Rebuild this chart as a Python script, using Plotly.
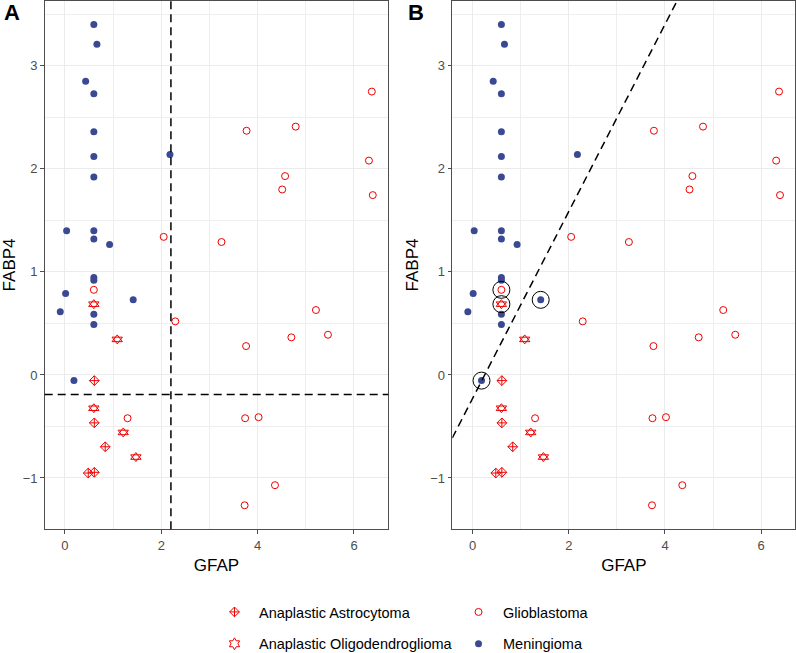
import plotly.graph_objects as go

# ---------------- data ----------------
men_x = [0.60, 0.664, 0.43, 0.60, 0.60, 0.60, 0.60, 2.18, 0.035, 0.60,
         0.60, 0.927, 0.60, 0.60, 0.014, 1.417, -0.097, 0.60, 0.60, 0.187]
men_y = [3.40, 3.21, 2.85, 2.73, 2.36, 2.12, 1.92, 2.14, 1.40, 1.40,
         1.32, 1.265, 0.946, 0.92, 0.79, 0.729, 0.613, 0.59, 0.49, -0.055]

gbm_x = [6.37, 3.77, 4.79, 6.31, 4.57, 4.51, 6.39, 2.05, 3.25, 0.60,
         5.21, 2.29, 5.46, 4.70, 3.76, 1.30, 3.74, 4.02, 4.36, 3.73]
gbm_y = [2.75, 2.37, 2.41, 2.08, 1.93, 1.80, 1.745, 1.34, 1.29, 0.826,
         0.63, 0.52, 0.39, 0.365, 0.28, -0.42, -0.42, -0.41, -1.07, -1.265]

aa_x = [0.61, 0.61, 0.836, 0.61, 0.484]
aa_y = [-0.055, -0.465, -0.697, -0.945, -0.952]

ao_x = [0.60, 1.085, 0.60, 1.21, 1.473]
ao_y = [0.687, 0.345, -0.323, -0.558, -0.797]

# misclassified points highlighted in panel B: (group, index)
highlight = [("gbm", 9), ("ao", 0), ("men", 15), ("men", 19)]

gfap_cut = 2.2
fabp4_cut = -0.19
boundary_intercept = -0.23
boundary_slope = 0.908

x_ticks = [0, 2, 4, 6]
x_minor = [1, 3, 5]
y_ticks = [-1, 0, 1, 2, 3]
y_minor = [-0.5, 0.5, 1.5, 2.5, 3.5]

# ---------------- style ----------------
RED = "#EE0000"
BLUE = "#3B4992"
XR = [-0.42, 6.71]
YR = [-1.498, 3.633]
W, H = 796, 653

groups = {"men": (men_x, men_y), "gbm": (gbm_x, gbm_y),
          "aa": (aa_x, aa_y), "ao": (ao_x, ao_y)}
hl_x = [groups[g][0][i] for g, i in highlight]
hl_y = [groups[g][1][i] for g, i in highlight]

fig = go.Figure()

for k, (xa, ya) in enumerate([("x", "y"), ("x2", "y2")]):
    first = k == 0
    fig.add_trace(go.Scatter(
        x=aa_x, y=aa_y, mode="markers", xaxis=xa, yaxis=ya,
        name="Anaplastic Astrocytoma", legendgroup="aa", legend="legend",
        showlegend=first,
        marker=dict(symbol="diamond-cross-open", size=7.5, color=RED,
                    line=dict(width=1, color=RED))))
    for sym in ["triangle-up-open", "triangle-down-open"]:
        fig.add_trace(go.Scatter(
            x=ao_x, y=ao_y, mode="markers", xaxis=xa, yaxis=ya,
            name="Anaplastic Oligodendroglioma", legendgroup="ao",
            legend="legend", showlegend=False,
            marker=dict(symbol=sym, size=9, color=RED,
                        line=dict(width=1, color=RED))))
    if first:
        fig.add_trace(go.Scatter(
            x=[None], y=[None], mode="markers", xaxis=xa, yaxis=ya,
            name="Anaplastic Oligodendroglioma", legendgroup="ao",
            legend="legend", showlegend=True,
            marker=dict(symbol="hexagram-open", size=9, color=RED,
                        line=dict(width=1, color=RED))))
    fig.add_trace(go.Scatter(
        x=gbm_x, y=gbm_y, mode="markers", xaxis=xa, yaxis=ya,
        name="Glioblastoma", legendgroup="gbm", legend="legend2",
        showlegend=first,
        marker=dict(symbol="circle-open", size=7, color=RED,
                    line=dict(width=1, color=RED))))
    fig.add_trace(go.Scatter(
        x=men_x, y=men_y, mode="markers", xaxis=xa, yaxis=ya,
        name="Meningioma", legendgroup="men", legend="legend2",
        showlegend=first,
        marker=dict(symbol="circle", size=7, color=BLUE,
                    line=dict(width=0))))

fig.add_trace(go.Scatter(
    x=hl_x, y=hl_y, mode="markers", xaxis="x2", yaxis="y2", showlegend=False,
    marker=dict(symbol="circle-open", size=17, color="black",
                line=dict(width=1, color="black"))))

# ---------------- axes ----------------
common = dict(showline=True, mirror=True, linecolor="#4D4D4D", linewidth=1.2,
              showgrid=True, gridcolor="#EBEBEB", gridwidth=1.4, zeroline=False,
              ticks="outside", ticklen=3.5, tickwidth=1.1, tickcolor="#4D4D4D",
              tickfont=dict(size=13, color="#4D4D4D",
                            family="Liberation Sans, Arial, sans-serif"))
xcommon = dict(common, range=XR, tickmode="array", tickvals=x_ticks,
               minor=dict(tickvals=x_minor, showgrid=True, gridcolor="#EEEEEE",
                          gridwidth=0.8, ticks=""),
               title=dict(text="GFAP", font=dict(size=17, color="black"),
                          standoff=7))
ycommon = dict(common, range=YR, tickmode="array", tickvals=y_ticks,
               minor=dict(tickvals=y_minor, showgrid=True, gridcolor="#EEEEEE",
                          gridwidth=0.8, ticks=""),
               title=dict(text="FABP4", font=dict(size=17, color="black"),
                          standoff=7))

ydom = [1 - 529.3 / H, 1 - 0.6 / H]
fig.update_layout(
    xaxis=dict(xcommon, domain=[44.7 / W, 388.2 / W], anchor="y"),
    yaxis=dict(ycommon, domain=ydom, anchor="x"),
    xaxis2=dict(xcommon, domain=[452.3 / W, 795.4 / W], anchor="y2"),
    yaxis2=dict(ycommon, domain=ydom, anchor="x2"),
)

# ---------------- reference lines ----------------
dash = "8px,5px"
fig.add_shape(type="line", xref="x", yref="y domain", x0=gfap_cut, x1=gfap_cut,
              y0=0, y1=1, line=dict(color="black", width=1.5, dash=dash))
fig.add_shape(type="line", xref="x domain", yref="y", x0=0, x1=1,
              y0=fabp4_cut, y1=fabp4_cut,
              line=dict(color="black", width=1.5, dash=dash))
fig.add_shape(type="line", xref="x2", yref="y2",
              x0=XR[0], y0=boundary_intercept + boundary_slope * XR[0],
              x1=XR[1], y1=boundary_intercept + boundary_slope * XR[1],
              line=dict(color="black", width=1.5, dash=dash))

# ---------------- panel labels ----------------
for lbl, xp in [("A", 2 / W), ("B", 406 / W)]:
    fig.add_annotation(text="<b>%s</b>" % lbl, xref="paper", yref="paper",
                       x=xp, y=1, xanchor="left", yanchor="top",
                       showarrow=False, yshift=2,
                       font=dict(size=22, color="black"))

legend_common = dict(orientation="v", font=dict(size=14.5, color="black"),
                     bgcolor="rgba(0,0,0,0)", tracegroupgap=10, itemwidth=39,
                     traceorder="grouped", yanchor="top", xanchor="left")
fig.update_layout(
    width=W, height=H, margin=dict(l=0, r=0, t=0, b=0, autoexpand=False),
    plot_bgcolor="white", paper_bgcolor="white",
    font=dict(family="Liberation Sans, Arial, sans-serif", color="black"),
    legend=dict(legend_common, x=210 / W, y=1 - 596 / H),
    legend2=dict(legend_common, x=454 / W, y=1 - 596 / H),
)

fig.write_html("out.html", config={"displayModeBar": False},
               post_script="document.body.style.margin='0px';"
                           "document.body.style.padding='0px';")
